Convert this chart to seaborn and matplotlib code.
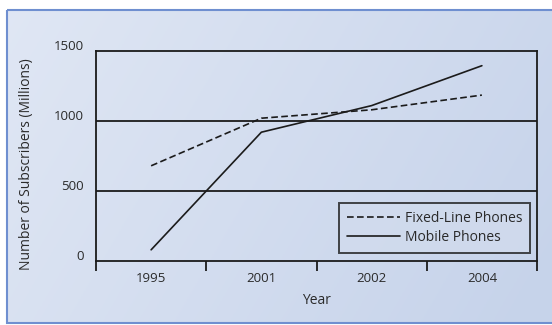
import numpy as np
import pandas as pd
import matplotlib
matplotlib.use("Agg")
import matplotlib.pyplot as plt
import matplotlib.transforms as mtransforms
import seaborn as sns
from matplotlib.patches import Rectangle

# -- Data ----------------------------------------------------------------------
YEARS  = ["1995", "2001", "2002", "2004"]
FIXED  = [680, 1020, 1080, 1185]
MOBILE = [80, 920, 1110, 1395]
SERIES = ["Fixed-Line Phones", "Mobile Phones"]
Y_TICKS = [0, 500, 1000, 1500]

df = pd.DataFrame({
    "Year":   YEARS * 2,
    "Value":  FIXED + MOBILE,
    "Series": [SERIES[0]] * len(YEARS) + [SERIES[1]] * len(YEARS),
})

# -- Style -----------------------------------------------------------------------
sns.set_theme(style="white")
plt.rcParams["font.family"] = ["Open Sans", "DejaVu Sans"]
INK = "#1b1b1b"
TXT = "#2a2a2a"

fig = plt.figure(figsize=(5.52, 3.25), dpi=100, facecolor="white")

# background panel with soft gradient and blue frame
bg = fig.add_axes([0, 0, 1, 1], zorder=-5)
bg.set_xlim(0, 552)
bg.set_ylim(325, 0)
bg.axis("off")
gx = np.linspace(0, 1, 200)
gy = np.linspace(0, 1, 120)
GX, GY = np.meshgrid(gx, gy)
t = np.clip(0.6 * GX + 0.2 * GY + 0.25, 0, 1)
c0 = np.array([0.91, 0.93, 0.97])
c1 = np.array([0.78, 0.83, 0.92])
img = c0[None, None, :] * (1 - t[..., None]) + c1[None, None, :] * t[..., None]
bg.imshow(img, extent=[7, 552, 322, 10], aspect="auto", zorder=0)
bg.add_patch(Rectangle((6.5, 9.5), 560, 313, fill=False,
                       edgecolor="#6f8fd0", linewidth=1.5, zorder=1))

# -- Main plot -------------------------------------------------------------------
ax = fig.add_axes([96 / 552, 1 - 261 / 325, (537 - 96) / 552, (261 - 51) / 325])
ax.patch.set_alpha(0)

sns.lineplot(data=df, x="Year", y="Value", style="Series",
             dashes={SERIES[0]: (4, 2), SERIES[1]: ""},
             color=INK, linewidth=1.2, ax=ax, sort=False)

ax.set_xlim(-0.5, len(YEARS) - 0.5)
ax.set_ylim(0, 1500)
ax.set_xticks(range(len(YEARS)))
ax.set_xticklabels(YEARS)
ax.set_xticks(np.arange(-0.5, len(YEARS), 1.0), minor=True)
ax.tick_params(axis="x", which="major", length=0, pad=8, labelsize=9.5, labelcolor=TXT)
ax.tick_params(axis="x", which="minor", length=7, width=1.3, color=INK, direction="out",
               bottom=True)
ax.set_yticks(Y_TICKS)
ax.tick_params(axis="y", length=0, pad=9, labelsize=9.5, labelcolor=TXT)
shift = mtransforms.ScaledTranslation(0, 3 / 72, fig.dpi_scale_trans)
for lab in ax.get_yticklabels():
    lab.set_verticalalignment("center")
    lab.set_transform(lab.get_transform() + shift)

for yv in Y_TICKS[1:-1]:
    ax.axhline(yv, color=INK, linewidth=1.3, zorder=1)
for s in ax.spines.values():
    s.set_visible(True)
    s.set_color(INK)
    s.set_linewidth(1.3)

ax.set_xlabel("Year", fontsize=10, color=TXT, labelpad=6)
ax.set_ylabel("Number of Subscribers (Millions)", fontsize=10, color=TXT)
ax.yaxis.set_label_coords(-0.14, 0.46)

leg = ax.legend(title=None, loc="lower right", bbox_to_anchor=(0.985, 0.04),
                fontsize=10, handlelength=3.8, handletextpad=0.4,
                labelspacing=0.3, borderpad=0.55, fancybox=False,
                frameon=True, borderaxespad=0)
leg.get_frame().set_edgecolor(INK)
leg.get_frame().set_linewidth(1.4)
leg.get_frame().set_facecolor((0.82, 0.86, 0.93))
for txt in leg.get_texts():
    txt.set_color(TXT)

fig.savefig("out.png", dpi=100, facecolor="white")
